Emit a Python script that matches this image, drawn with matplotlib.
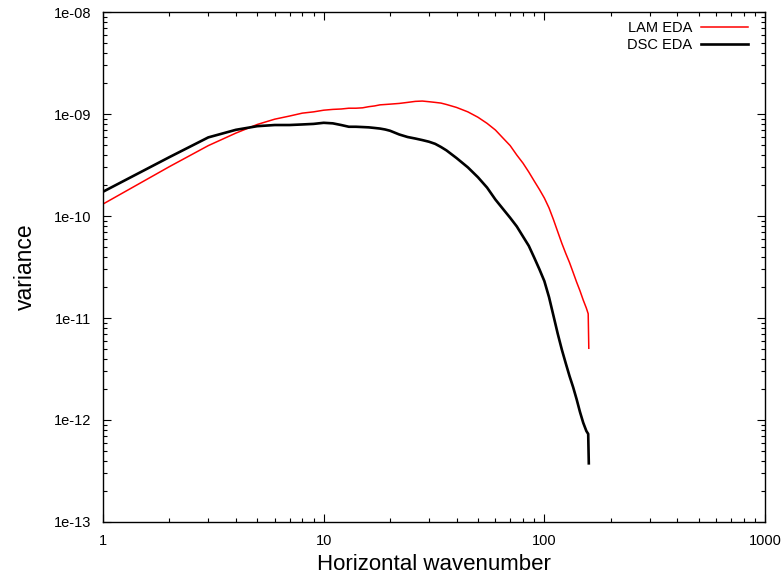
import numpy as np
import matplotlib.pyplot as plt
from matplotlib.ticker import FixedLocator, LogLocator, NullFormatter

plt.rcParams['font.family'] = ['Liberation Sans', 'DejaVu Sans']

# wavenumbers
wavenumber = [1, 2, 3, 4, 5, 6, 7, 8, 9, 10, 11, 12, 13, 14, 15, 16, 17, 18, 19, 20,
              22, 24, 26, 28, 30, 32, 34, 36, 40, 45, 50, 55, 60, 65, 70, 75, 80, 85,
              90, 95, 100, 105, 110, 115, 120, 125, 130, 135, 140, 145, 150, 155, 158, 159]

lam_eda = [1.31e-10, 3.05e-10, 4.9e-10, 6.5e-10, 7.9e-10, 8.9e-10, 9.55e-10, 1.02e-9,
           1.05e-9, 1.09e-9, 1.11e-9, 1.12e-9, 1.14e-9, 1.14e-9, 1.15e-9, 1.18e-9,
           1.2e-9, 1.23e-9, 1.24e-9, 1.25e-9, 1.27e-9, 1.3e-9, 1.33e-9, 1.34e-9,
           1.32e-9, 1.3e-9, 1.28e-9, 1.24e-9, 1.16e-9, 1.05e-9, 9.3e-10, 8.1e-10,
           6.97e-10, 5.8e-10, 4.9e-10, 3.96e-10, 3.3e-10, 2.7e-10, 2.2e-10, 1.82e-10,
           1.5e-10, 1.2e-10, 9.2e-11, 7.0e-11, 5.4e-11, 4.3e-11, 3.5e-11, 2.8e-11,
           2.25e-11, 1.85e-11, 1.5e-11, 1.25e-11, 1.1e-11, 5.05e-12]

dsc_eda = [1.73e-10, 3.78e-10, 5.9e-10, 7.0e-10, 7.6e-10, 7.8e-10, 7.8e-10, 7.9e-10,
           8.0e-10, 8.2e-10, 8.1e-10, 7.8e-10, 7.5e-10, 7.5e-10, 7.45e-10, 7.4e-10,
           7.3e-10, 7.2e-10, 7.05e-10, 6.85e-10, 6.3e-10, 5.95e-10, 5.75e-10, 5.55e-10,
           5.35e-10, 5.1e-10, 4.75e-10, 4.4e-10, 3.7e-10, 3.0e-10, 2.4e-10, 1.9e-10,
           1.45e-10, 1.17e-10, 9.6e-11, 7.9e-11, 6.3e-11, 5.1e-11, 3.9e-11, 3.0e-11,
           2.3e-11, 1.6e-11, 1.05e-11, 7.0e-12, 4.9e-12, 3.6e-12, 2.7e-12, 2.1e-12,
           1.6e-12, 1.2e-12, 9.4e-13, 7.8e-13, 7.3e-13, 3.76e-13]

x_ticks = [1, 10, 100, 1000]
x_tick_labels = ['1', '10', '100', '1000']
y_ticks = [1e-13, 1e-12, 1e-11, 1e-10, 1e-9, 1e-8]
y_tick_labels = ['1e-13', '1e-12', '1e-11', '1e-10', '1e-09', '1e-08']

fig = plt.figure(figsize=(7.84, 5.78), dpi=100)
ax = fig.add_axes([0.1314, 0.0969, 0.8444, 0.8823])

ax.plot(wavenumber, lam_eda, color='#ff0000', linewidth=1.1, label='LAM EDA')
ax.plot(wavenumber, dsc_eda, color='black', linewidth=1.9, label='DSC EDA')

ax.set_xscale('log')
ax.set_yscale('log')
ax.set_xlim(1, 1000)
ax.set_ylim(1e-13, 1e-8)

ax.xaxis.set_major_locator(FixedLocator(x_ticks))
ax.set_xticklabels(x_tick_labels)
ax.yaxis.set_major_locator(FixedLocator(y_ticks))
ax.set_yticklabels(y_tick_labels)
for axis in (ax.xaxis, ax.yaxis):
    axis.set_minor_locator(LogLocator(base=10, subs=np.arange(2, 10), numticks=20))
    axis.set_minor_formatter(NullFormatter())

ax.tick_params(which='both', direction='in', top=True, right=True,
               labelsize=10.5, colors='black', width=0.8)
ax.tick_params(axis='y', which='major', length=6, pad=8.5)
ax.tick_params(axis='x', which='major', length=6, pad=9)
ax.tick_params(which='minor', length=3)
for s in ax.spines.values():
    s.set_linewidth(1.0)

ax.set_xlabel('Horizontal wavenumber', fontsize=16, labelpad=4)
ax.set_ylabel('variance', fontsize=16.5, labelpad=12)

# gnuplot-style key: text right-aligned, sample line after it
leg = ax.legend(loc='upper right', bbox_to_anchor=(0.983, 0.9935), borderaxespad=0,
                frameon=False, fontsize=10.5, markerfirst=False,
                handlelength=3.2, handletextpad=0.6, labelspacing=0.18)
for t in leg.get_texts():
    t.set_ha('right')

fig.savefig('out.png', dpi=100)
